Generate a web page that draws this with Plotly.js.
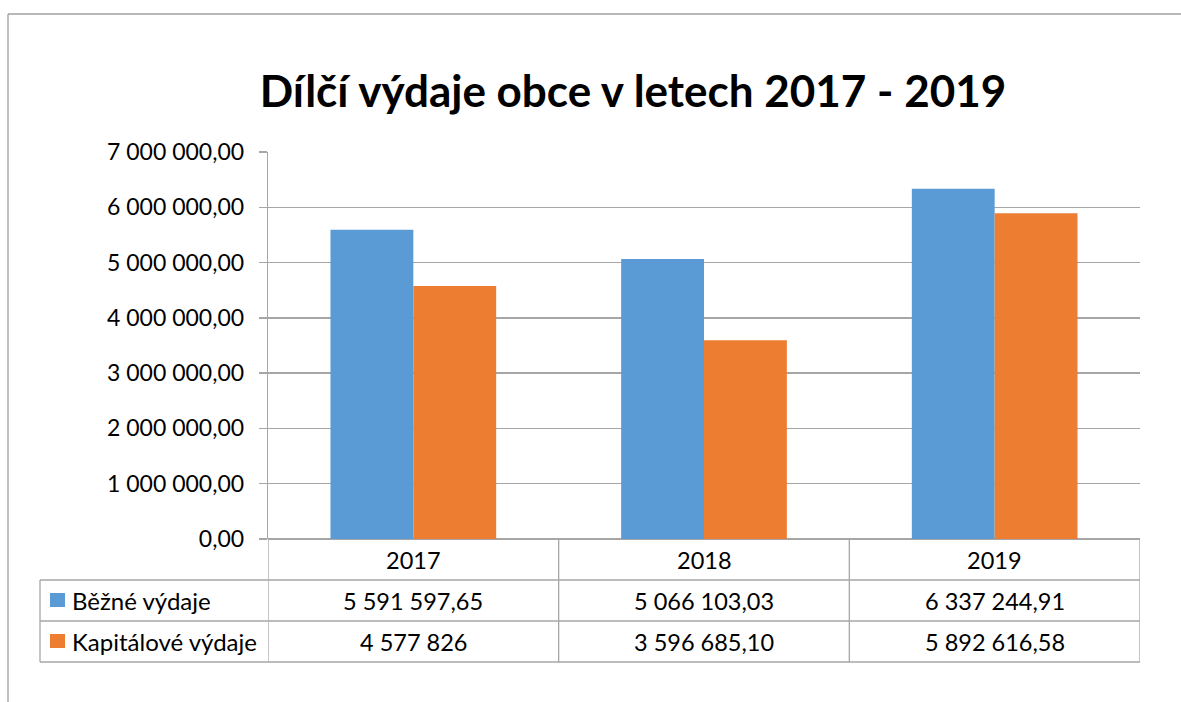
<!DOCTYPE html>
<html>
<head>
<meta charset="utf-8">
<script src="https://cdn.plot.ly/plotly-3.0.1.min.js"></script>
<style>
  body { margin: 0; background: #fff; }
  #plot { width: 1181px; height: 702px; }
</style>
</head>
<body>
<div id="plot"></div>
<script>
// chart data
var years = ["2017", "2018", "2019"];
var bezne = [5591597.65, 5066103.03, 6337244.91];
var kapitalove = [4577826, 3596685.10, 5892616.58];
var seriesNames = ["Běžné výdaje", "Kapitálové výdaje"];
var seriesColors = ["#5B9BD5", "#ED7D31"];

// plot area in pixels (left, right, top, bottom)
var L = 268, R = 1140, T = 152, B = 539;
function px(x) { return (x - L) / (R - L); }   // pixel -> paper x
function py(y) { return (B - y) / (B - T); }   // pixel -> paper y

// "5 591 597,65" style numbers
function fmt(v) {
    var dec = Number.isInteger(v) ? 0 : 2;
    var parts = v.toFixed(dec).split(".");
    var whole = parts[0].replace(/\B(?=(\d{3})+(?!\d))/g, " ");
    return parts[1] ? whole + "," + parts[1] : whole;
}

var gridGray = "#A6A6A6";
var font = "Lato, 'Open Sans', sans-serif";

var trace1 = {
    x: years,
    y: bezne,
    name: seriesNames[0],
    type: "bar",
    marker: { color: seriesColors[0] },
    hoverinfo: "none"
};

var trace2 = {
    x: years,
    y: kapitalove,
    name: seriesNames[1],
    type: "bar",
    marker: { color: seriesColors[1] },
    hoverinfo: "none"
};

var data = [trace1, trace2];

// data table under the chart
var annotations = [];
var shapes = [];
var rows = [bezne, kapitalove];
var rowCenters = [600.5, 641.5];

years.forEach(function (yr, i) {
    annotations.push({
        x: i, xref: "x", y: py(559.5), yref: "paper",
        text: yr, showarrow: false, xanchor: "center", yanchor: "middle",
        font: { family: font, size: 23.5, color: "#000" }
    });
    rows.forEach(function (vals, r) {
        annotations.push({
            x: i, xref: "x", y: py(rowCenters[r]), yref: "paper",
            text: fmt(vals[i]), showarrow: false, xanchor: "center", yanchor: "middle",
            font: { family: font, size: 23.5, color: "#000" }
        });
    });
});

seriesNames.forEach(function (name, r) {
    annotations.push({
        x: px(70), xref: "paper", y: py(rowCenters[r]), yref: "paper",
        text: name, showarrow: false, xanchor: "left", yanchor: "middle",
        font: { family: font, size: 24, color: "#000" }
    });
    shapes.push({
        type: "rect", xref: "paper", yref: "paper",
        x0: px(50), x1: px(65),
        y0: py(rowCenters[r] - 7.5), y1: py(rowCenters[r] + 6.5),
        fillcolor: seriesColors[r], line: { width: 0 }
    });
});

// table grid lines
[580, 621, 662].forEach(function (y) {
    shapes.push({
        type: "line", xref: "paper", yref: "paper",
        x0: px(40), x1: 1, y0: py(y), y1: py(y),
        line: { color: gridGray, width: 1.3 }
    });
});
[-0.5, 0.5, 1.5, 2.5].forEach(function (x) {
    shapes.push({
        type: "line", xref: "x", yref: "paper",
        x0: x, x1: x, y0: py(B), y1: py(662),
        line: { color: gridGray, width: 1.3 }
    });
});
shapes.push({
    type: "line", xref: "paper", yref: "paper",
    x0: px(40), x1: px(40), y0: py(580), y1: py(662),
    line: { color: gridGray, width: 1.3 }
});

// outer chart frame (top and left edges visible)
shapes.push({
    type: "line", xref: "paper", yref: "paper",
    x0: px(8), x1: px(1190), y0: py(14), y1: py(14),
    line: { color: "#A0A0A0", width: 1.3 }
});
shapes.push({
    type: "line", xref: "paper", yref: "paper",
    x0: px(8), x1: px(8), y0: py(14), y1: py(710),
    line: { color: "#A0A0A0", width: 1.3 }
});

var layout = {
    width: 1181,
    height: 702,
    margin: { l: L, r: 1181 - R, t: T, b: 702 - B, pad: 0 },
    paper_bgcolor: "#fff",
    plot_bgcolor: "#fff",
    separators: ", ",
    showlegend: false,
    barmode: "group",
    bargap: 0.43,
    bargroupgap: 0,
    title: {
        text: "<b>Dílčí výdaje obce v letech 2017 - 2019</b>",
        font: { family: font, size: 44, color: "#000" },
        x: 633 / 1181, xref: "container", xanchor: "center",
        y: 1 - 92 / 702, yref: "container", yanchor: "middle"
    },
    xaxis: {
        type: "category",
        range: [-0.5, 2.5],
        showticklabels: false,
        showgrid: false,
        showline: false,
        zeroline: false,
        ticks: ""
    },
    yaxis: {
        range: [0, 7000000],
        dtick: 1000000,
        tick0: 0,
        tickformat: ",.2f",
        ticks: "outside",
        ticklen: 8,
        tickcolor: gridGray,
        tickwidth: 1.3,
        showline: true,
        linecolor: gridGray,
        linewidth: 1.3,
        gridcolor: gridGray,
        gridwidth: 1.3,
        zeroline: true,
        zerolinecolor: gridGray,
        zerolinewidth: 1.3,
        tickfont: { family: font, size: 23, color: "#000" },
        ticklabelstandoff: 10
    },
    annotations: annotations,
    shapes: shapes
};

Plotly.newPlot("plot", data, layout, { staticPlot: true });
</script>
</body>
</html>
